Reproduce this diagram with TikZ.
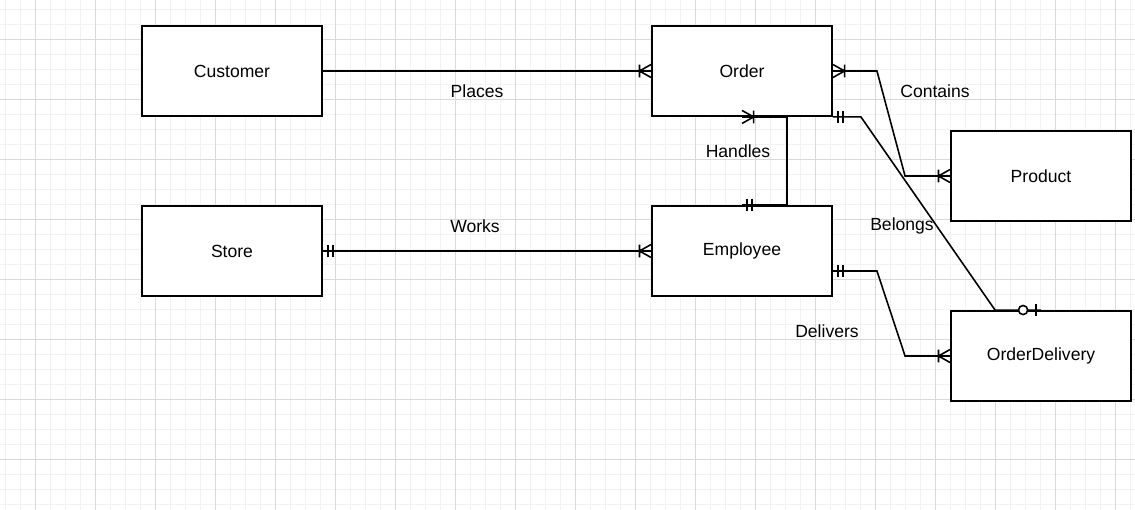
\documentclass[tikz,border=0pt]{standalone}
\usepackage{fontspec}
\setmainfont{Liberation Sans}
\usetikzlibrary{calc}

\tikzset{
  link/.style = {line width=0.9pt, line join=miter},
  pics/ermany/.style = {code = {
    \draw[link] (0,-3.7pt) -- (6.6pt,0) -- (0,3.7pt) (6.6pt,-3.6pt) -- (6.6pt,3.6pt);
  }},
  pics/erone/.style = {code = {
    \draw[link] (2.8pt,-3.3pt) -- (2.8pt,3.3pt) (5.7pt,-3.3pt) -- (5.7pt,3.3pt);
  }},
  pics/erzeroone/.style = {code = {
    \draw[link] (2.8pt,-3.3pt) -- (2.8pt,3.3pt);
    \draw[link, fill=white] (10.2pt,0) circle (2.6pt);
  }}
}

\begin{document}
\begin{tikzpicture}[x=0.02cm, y=-0.02cm,
      every node/.style = {font=\fontsize{10pt}{12pt}\selectfont},
      entity/.style = {shape=rectangle, draw, fill=white, line width=1.1pt,
                       minimum width=3.6cm, minimum height=1.8cm},
      rel/.style = {inner sep=1pt},
      gridminor/.style = {draw=black!5, line width=0.55pt},
      gridmajor/.style = {draw=black!15, line width=0.55pt}
      ]
      \useasboundingbox (0,0) rectangle (1135,510);
      % background grid
      \fill[white] (0,0) rectangle (1135,510);
      \foreach \x in {5,20,...,1130} \draw[gridminor] (\x,0) -- (\x,510);
      \foreach \y in {9,24,...,509} \draw[gridminor] (0,\y) -- (1135,\y);
      \foreach \x in {35,95,...,1115} \draw[gridmajor] (\x,0) -- (\x,510);
      \foreach \y in {39,99,...,459} \draw[gridmajor] (0,\y) -- (1135,\y);

      % entities
      \node[entity] (cust)  at (232,71)   {Customer};
      \node[entity] (ord)   at (742,71)   {Order};
      \node[entity] (prod)  at (1041,176) {Product};
      \node[entity] (store) at (232,251)  {Store};
      \node[entity] (emp)   at (742,251)  {Employee};
      \node[entity] (odl)   at (1041,356) {OrderDelivery};

      % relationships
      \draw[link] (cust.east) -- (ord.west);
      \path (ord.west) pic[rotate=180] {ermany};

      \draw[link] (ord.east) -- ++(44,0) -- ($(prod.west)+(-45,0)$) -- (prod.west);
      \path (ord.east) pic {ermany};
      \path (prod.west) pic[rotate=180] {ermany};

      \draw[link] (ord.south) -- ++(45,0) |- (emp.north);
      \path (ord.south) pic {ermany};
      \path (emp.north) pic {erone};

      \draw[link] (ord.south east) -- ++(28,0) -- ($(odl.north west)+(45,0)$) -- (odl.north);
      \path (ord.south east) pic {erone};
      \path (odl.north) pic[rotate=180] {erzeroone};

      \draw[link] (store.east) -- (emp.west);
      \path (store.east) pic {erone};
      \path (emp.west) pic[rotate=180] {ermany};

      \draw[link] ($(emp.east)+(0,20)$) -- ++(44,0) -- ($(odl.west)+(-45,0)$) -- (odl.west);
      \path ($(emp.east)+(0,20)$) pic {erone};
      \path (odl.west) pic[rotate=180] {ermany};

      % labels
      \node[rel] (places)   at (477,91)  {Places};
      \node[rel] (contains) at (935,91)  {Contains};
      \node[rel] (handles)  at (738,151) {Handles};
      \node[rel] (works)    at (475,226) {Works};
      \node[rel] (belongs)  at (902,226) {Belongs};
      \node[rel] (delivers) at (827,331) {Delivers};
\end{tikzpicture}
\end{document}
